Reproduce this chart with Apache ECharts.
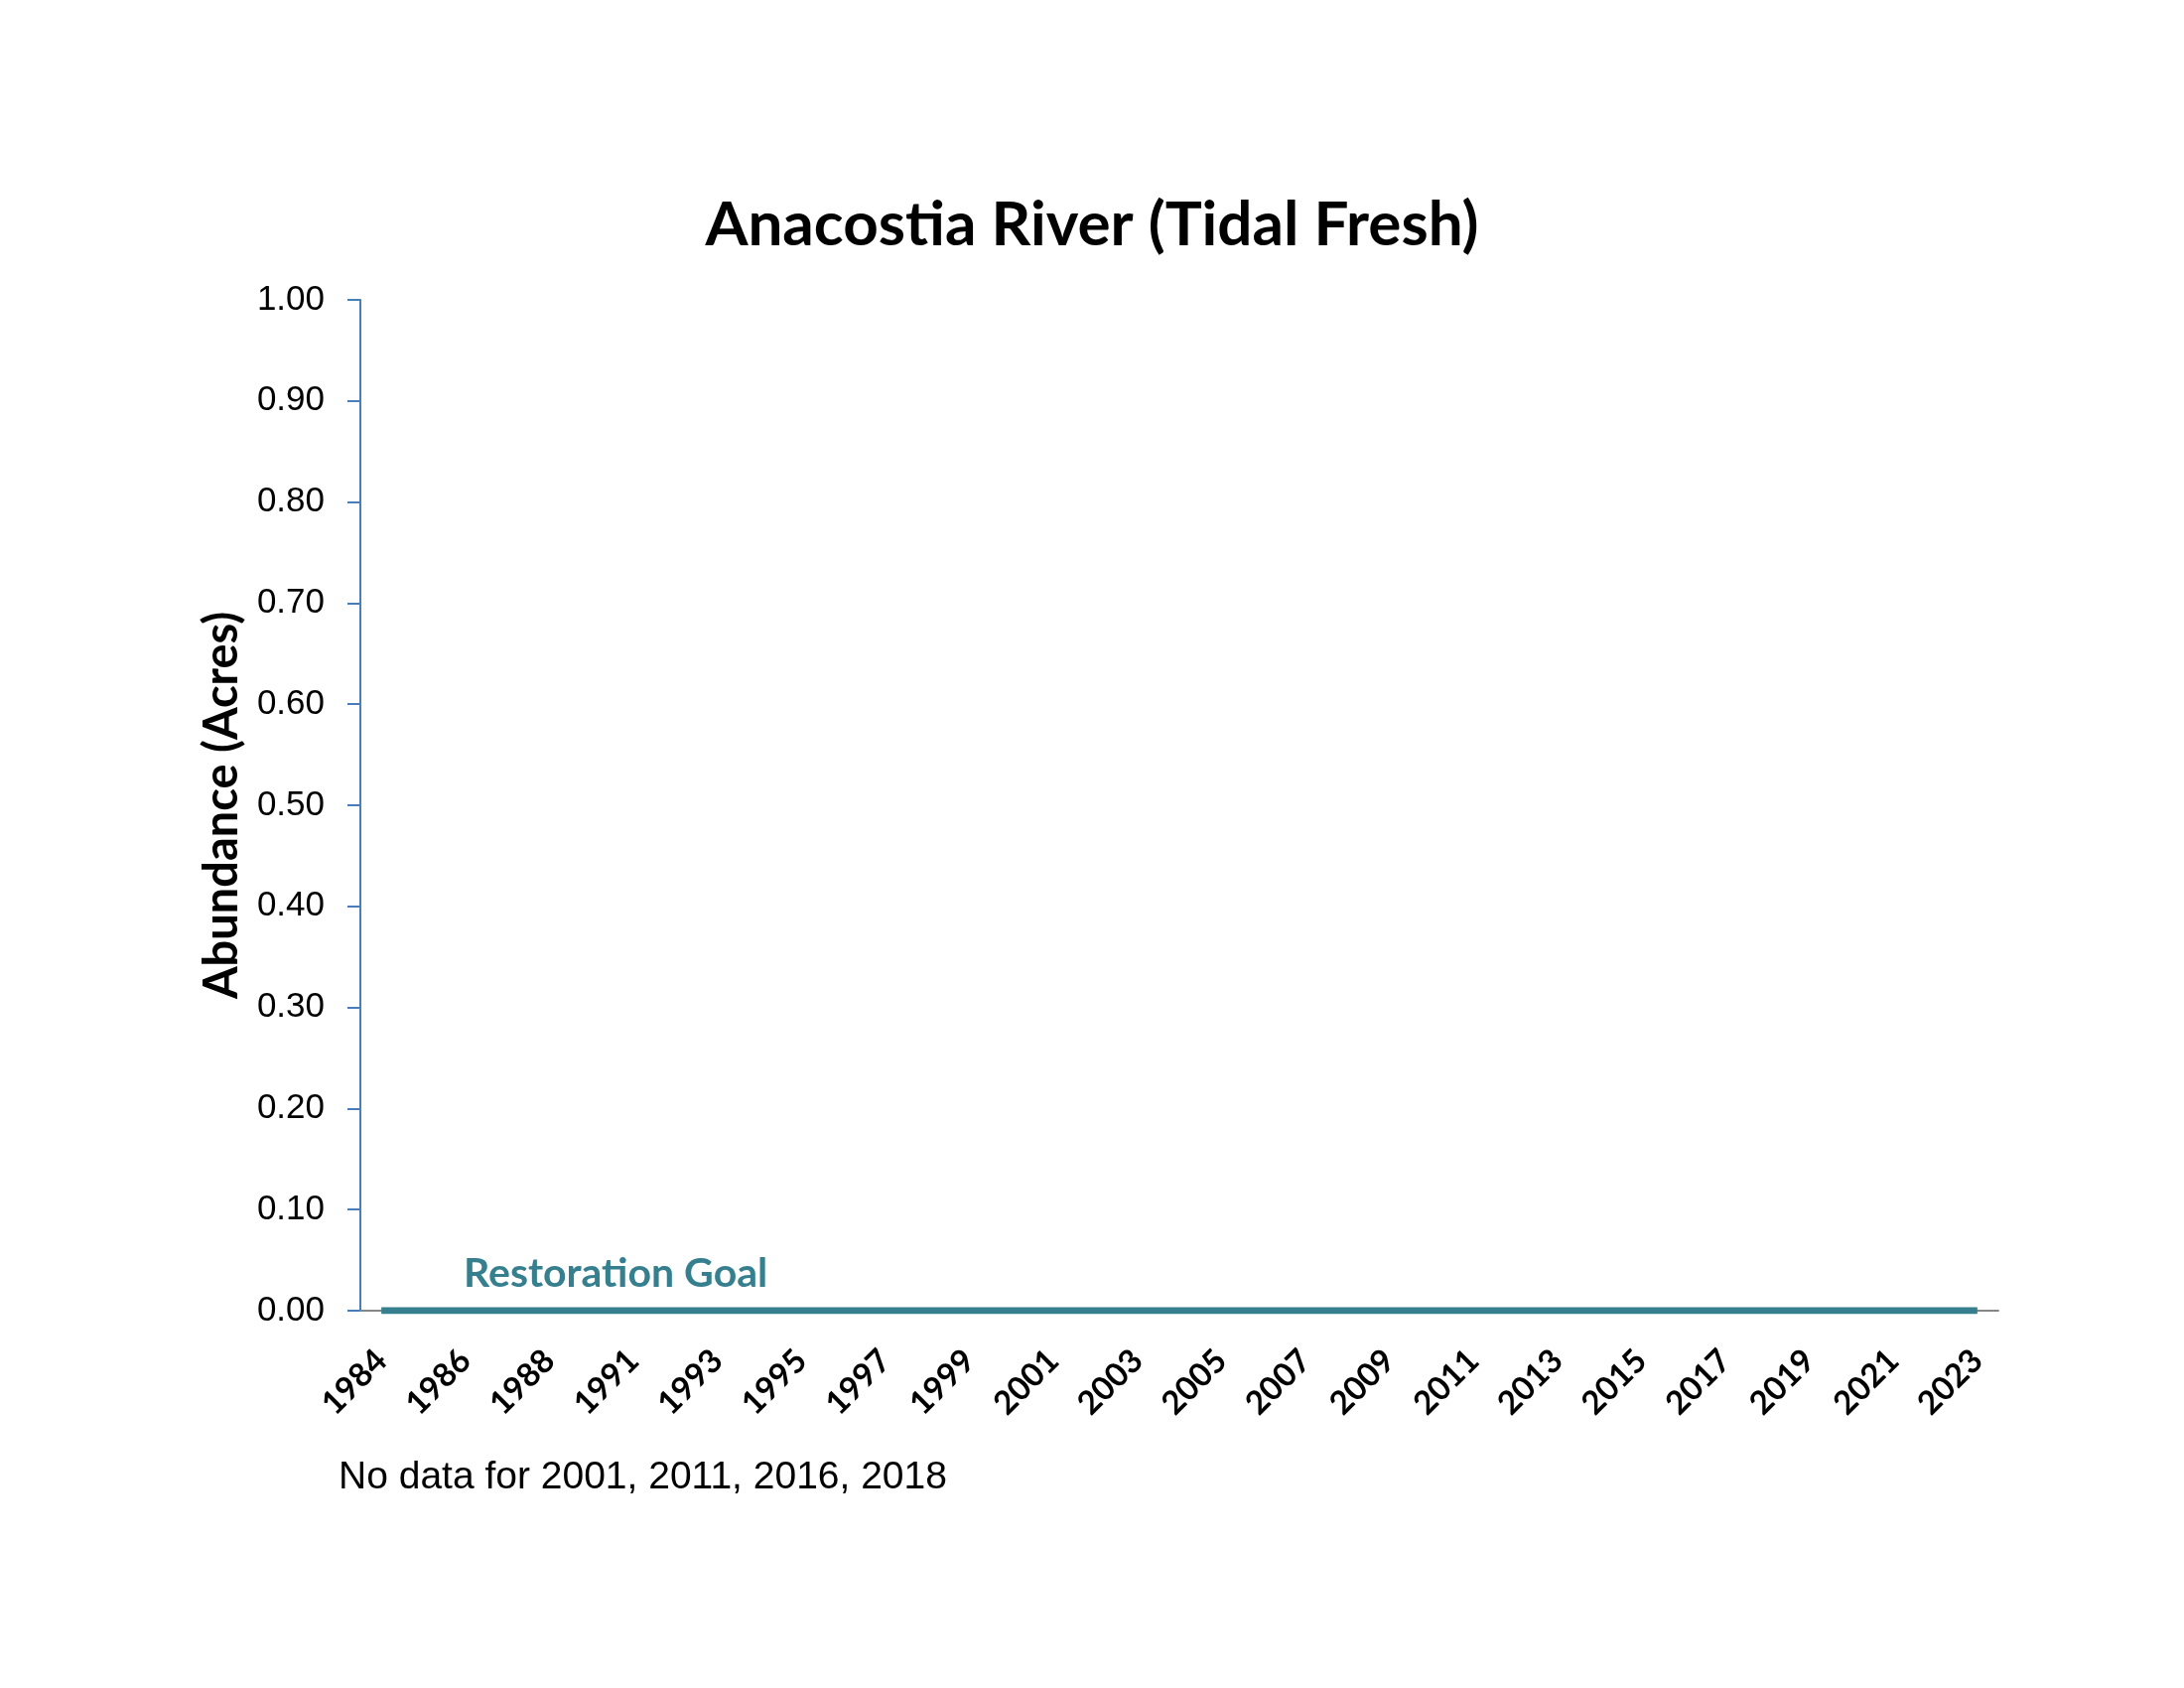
<!DOCTYPE html>
<html>
<head>
<meta charset="utf-8">
<script src="https://cdn.jsdelivr.net/npm/echarts@6/dist/echarts.min.js"></script>
<style>
  html, body { margin: 0; padding: 0; background: #ffffff; }
  #chart { width: 2200px; height: 1700px; }
</style>
</head>
<body>
<div id="chart"></div>
<script>
// Survey years shown on the category axis
const years = ['1984','1985','1986','1987','1988','1989','1991','1992','1993','1994','1995','1996','1997','1998','1999','2000','2001','2002','2003','2004','2005','2006','2007','2008','2009','2010','2011','2012','2013','2014','2015','2016','2017','2018','2019','2020','2021','2022','2023'];
// SAV abundance (acres): zero in every surveyed year; null where no data
const abundance = [0,0,0,0,0,0,0,0,0,0,0,0,0,0,0,0,null,0,0,0,0,0,0,0,0,0,null,0,0,0,0,null,0,null,0,0,0,0,0];
// Restoration goal (acres)
const goal = [0,0,0,0,0,0,0,0,0,0,0,0,0,0,0,0,0,0,0,0,0,0,0,0,0,0,0,0,0,0,0,0,0,0,0,0,0,0,0];
const titleText = 'Anacostia River (Tidal Fresh)';
const yAxisName = 'Abundance (Acres)';
const goalLabel = 'Restoration Goal';
const footnote = 'No data for 2001, 2011, 2016, 2018';

const chart = echarts.init(document.getElementById('chart'), null, { renderer: 'canvas' });
chart.setOption({
  backgroundColor: '#ffffff',
  animation: false,
  title: {
    text: titleText,
    left: 'center',
    top: 191,
    textStyle: { fontFamily: 'Lato', fontWeight: 'bold', fontSize: 62, color: '#000000' }
  },
  grid: { left: 363, right: 187, top: 302, bottom: 380, containLabel: false },
  xAxis: {
    type: 'category',
    data: years,
    boundaryGap: true,
    axisLine: { show: true, lineStyle: { color: '#868686', width: 2 } },
    axisTick: { show: false },
    axisLabel: {
      interval: 1,
      rotate: 45,
      margin: 45,
      fontFamily: 'Lato',
      fontWeight: 'bold',
      fontSize: 33,
      color: '#000000'
    },
    splitLine: { show: false }
  },
  yAxis: {
    type: 'value',
    min: 0,
    max: 1,
    interval: 0.1,
    name: yAxisName,
    nameLocation: 'middle',
    nameRotate: 90,
    nameGap: 116,
    nameTextStyle: { fontFamily: 'Lato', fontWeight: 'bold', fontSize: 47, color: '#000000' },
    axisLine: { show: true, lineStyle: { color: '#4A7EBB', width: 2 } },
    axisTick: { show: true, length: 13, lineStyle: { color: '#4A7EBB', width: 2 } },
    axisLabel: {
      margin: 36,
      fontFamily: 'Liberation Sans',
      fontSize: 35,
      color: '#000000',
      formatter: v => v.toFixed(2)
    },
    splitLine: { show: false }
  },
  graphic: [
    {
      type: 'text',
      left: 467,
      top: 1262,
      style: { text: goalLabel, fontFamily: 'Lato', fontWeight: 'bold', fontSize: 41, fill: '#367F8E' }
    },
    {
      type: 'text',
      left: 341,
      top: 1469,
      style: { text: footnote, fontFamily: 'Liberation Sans', fontSize: 39, fill: '#000000' }
    }
  ],
  series: [
    {
      name: 'Abundance',
      type: 'bar',
      data: abundance,
      itemStyle: { color: '#4A7EBB' },
      barWidth: '60%'
    },
    {
      name: 'Restoration Goal',
      type: 'line',
      data: goal,
      symbol: 'none',
      lineStyle: { color: '#367F8E', width: 7 },
      z: 5
    }
  ]
});
</script>
</body>
</html>
